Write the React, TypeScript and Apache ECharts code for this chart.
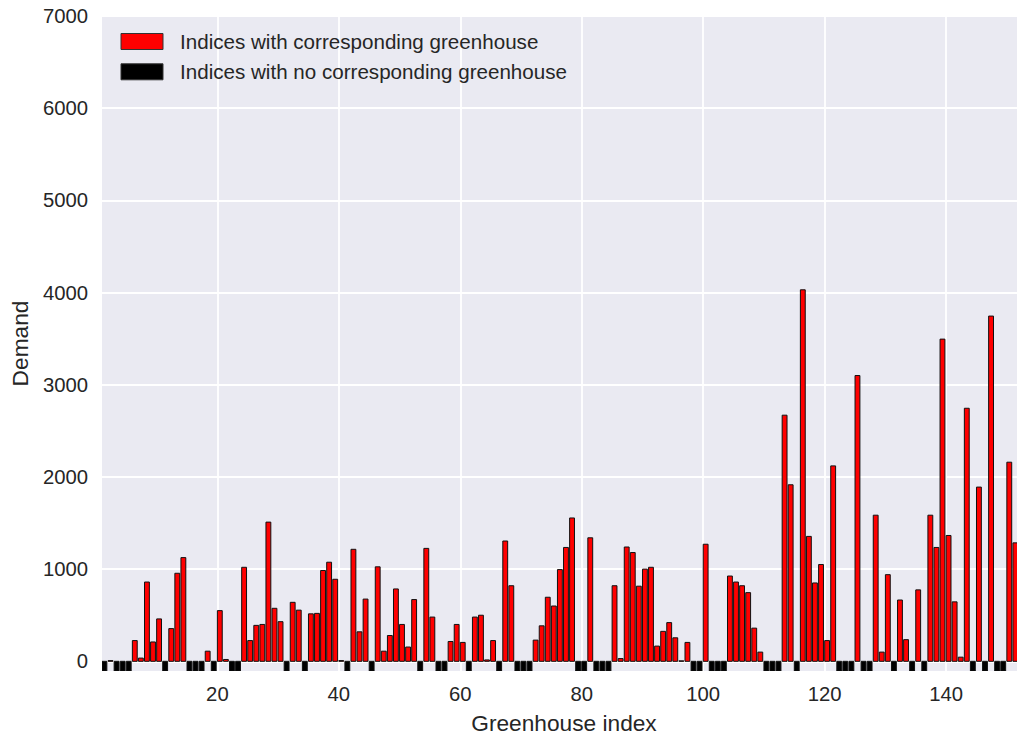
import React, { useEffect, useRef } from "react";
import * as echarts from "echarts";

// Demand per greenhouse index (only indices that have a greenhouse)
const greenhouseIdx: number[] = [
  2, 6, 7, 8, 9, 10, 12, 13, 14, 18, 20, 21, 24, 25, 26, 27, 28, 29, 30, 32,
  33, 35, 36, 37, 38, 39, 40, 42, 43, 44, 46, 47, 48, 49, 50, 51, 52, 54, 55,
  58, 59, 60, 62, 63, 64, 65, 67, 68, 72, 73, 74, 75, 76, 77, 78, 81, 85, 86,
  87, 88, 89, 90, 91, 92, 93, 94, 95, 96, 97, 100, 104, 105, 106, 107, 108,
  109, 113, 114, 116, 117, 118, 119, 120, 121, 125, 128, 129, 130, 132, 133,
  135, 137, 138, 139, 140, 141, 142, 143, 145, 147, 150, 151,
];
const greenhouseDemand: number[] = [
  8, 225, 35, 860, 210, 460, 355, 955, 1125, 110, 550, 20, 1020, 225, 390, 400,
  1510, 575, 430, 640, 555, 515, 520, 985, 1075, 890, 8, 1215, 320, 675, 1025,
  110, 280, 785, 400, 155, 670, 1225, 480, 215, 400, 205, 480, 500, 15, 225,
  1305, 820, 230, 385, 695, 600, 995, 1235, 1555, 1340, 820, 30, 1240, 1180,
  815, 1000, 1020, 165, 325, 420, 255, 5, 205, 1270, 925, 860, 820, 745, 360,
  100, 2670, 1915, 4030, 1355, 850, 1050, 225, 2120, 3100, 1585, 100, 940, 665,
  235, 775, 1585, 1235, 3495, 1365, 645, 45, 2745, 1890, 3745, 2160, 1285,
];

// Indices that have no matching greenhouse, drawn as short negative markers
const emptyIdx: number[] = [
  1, 3, 4, 5, 11, 15, 16, 17, 19, 22, 23, 31, 34, 41, 45, 53, 56, 57, 61, 66,
  69, 70, 71, 79, 80, 82, 83, 84, 98, 99, 101, 102, 103, 110, 111, 112, 115,
  122, 123, 124, 126, 127, 131, 134, 136, 144, 146, 148, 149,
];
const EMPTY_VALUE = -105;

const xTicks: number[] = [20, 40, 60, 80, 100, 120, 140];
const yTicks: number[] = [0, 1000, 2000, 3000, 4000, 5000, 6000, 7000];

const X_MIN = 1;
const X_MAX = 151.67;
const Y_MIN = -105;
const Y_MAX = 7000;
const BAR_WIDTH = 0.8;

const FONT = "Liberation Sans, Arial, sans-serif";
const TEXT_COLOR = "#262626";

const legendItems = [
  { label: "Indices with corresponding greenhouse", color: "#ff0000" },
  { label: "Indices with no corresponding greenhouse", color: "#000000" },
];

function makeBarSeries(name: string, data: number[][], color: string) {
  return {
    name,
    type: "custom",
    clip: true,
    encode: { x: 0, y: 1 },
    data,
    renderItem: (_params: any, api: any) => {
      const x = api.value(0);
      const v = api.value(1);
      const pTop = api.coord([x, v]);
      const pBase = api.coord([x + BAR_WIDTH, 0]);
      const y0 = Math.min(pTop[1], pBase[1]);
      const h = Math.abs(pBase[1] - pTop[1]);
      return {
        type: "rect",
        shape: { x: pTop[0], y: y0, width: pBase[0] - pTop[0], height: h },
        style: { fill: color, stroke: "#111111", lineWidth: 1 },
      };
    },
  };
}

export default function App() {
  const ref = useRef<HTMLDivElement>(null);

  useEffect(() => {
    document.body.style.margin = "0";
    document.body.style.overflow = "hidden";
    if (!ref.current) return;
    const chart = echarts.init(ref.current, undefined, { renderer: "svg" });

    const redData = greenhouseIdx.map((idx, k) => [idx, greenhouseDemand[k]]);
    const blackData = emptyIdx.map((idx) => [idx, EMPTY_VALUE]);

    const legendGraphics: any[] = [];
    legendItems.forEach((item, k) => {
      const cy = 41.5 + k * 30.3;
      legendGraphics.push({
        type: "rect",
        shape: { x: 121, y: cy - 8, width: 42, height: 16 },
        style: { fill: item.color, stroke: "#333333", lineWidth: 1 },
        z: 10,
      });
      legendGraphics.push({
        type: "text",
        x: 180,
        y: cy,
        style: {
          text: item.label,
          fontSize: 20.6,
          fontFamily: FONT,
          fill: TEXT_COLOR,
          verticalAlign: "middle",
          align: "left",
        },
        z: 10,
      });
    });

    chart.setOption({
      animation: false,
      backgroundColor: "#ffffff",
      textStyle: { fontFamily: FONT },
      grid: {
        left: 102,
        right: 0,
        top: 16,
        bottom: 69,
        show: true,
        backgroundColor: "#eaeaf2",
        borderWidth: 0,
      },
      xAxis: {
        type: "value",
        min: X_MIN,
        max: X_MAX,
        name: "Greenhouse index",
        nameLocation: "middle",
        nameGap: 40,
        nameTextStyle: {
          fontSize: 22.7,
          color: TEXT_COLOR,
          fontFamily: FONT,
          padding: [0, 0, 0, 9],
        },
        axisLine: { show: false },
        axisTick: { show: false, customValues: xTicks },
        axisLabel: {
          customValues: xTicks,
          fontSize: 20.3,
          color: TEXT_COLOR,
          fontFamily: FONT,
          margin: 13,
          formatter: (v: number) => String(v),
        },
        splitLine: {
          show: true,
          customValues: xTicks,
          lineStyle: { color: "#ffffff", width: 1.8 },
        },
      },
      yAxis: {
        type: "value",
        min: Y_MIN,
        max: Y_MAX,
        name: "Demand",
        nameLocation: "middle",
        nameGap: 70,
        nameTextStyle: { fontSize: 22.7, color: TEXT_COLOR, fontFamily: FONT },
        axisLine: { show: false },
        axisTick: { show: false, customValues: yTicks },
        axisLabel: {
          customValues: yTicks,
          fontSize: 20.3,
          color: TEXT_COLOR,
          fontFamily: FONT,
          margin: 14,
          formatter: (v: number) => String(v),
        },
        splitLine: {
          show: true,
          customValues: yTicks,
          lineStyle: { color: "#ffffff", width: 1.8 },
        },
      },
      series: [
        makeBarSeries("Indices with corresponding greenhouse", redData, "#ff0000"),
        makeBarSeries("Indices with no corresponding greenhouse", blackData, "#000000"),
      ],
      graphic: legendGraphics,
    });

    return () => chart.dispose();
  }, []);

  return <div ref={ref} style={{ width: 1017, height: 740 }} />;
}
